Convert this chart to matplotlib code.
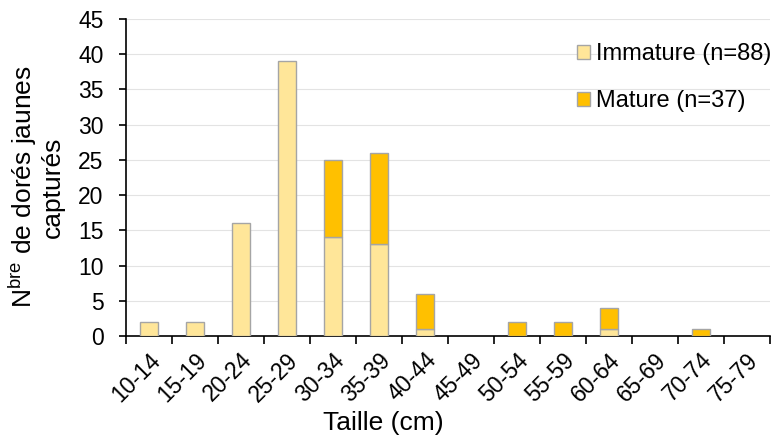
import matplotlib.pyplot as plt
import numpy as np

plt.rcParams.update({'font.family': ['Liberation Sans', 'DejaVu Sans'],
                     'mathtext.fontset': 'custom',
                     'mathtext.rm': 'Liberation Sans',
                     'font.size': 16.5})

classes = ['10-14', '15-19', '20-24', '25-29', '30-34', '35-39', '40-44',
           '45-49', '50-54', '55-59', '60-64', '65-69', '70-74', '75-79']
immature = [2, 2, 16, 39, 14, 13, 1, 0, 0, 0, 1, 0, 0, 0]
mature = [0, 0, 0, 0, 11, 13, 5, 0, 2, 2, 3, 0, 1, 0]

fig = plt.figure(figsize=(7.76, 4.43), dpi=100)
ax = fig.add_axes([0.162, 0.2415, 0.83, 0.716])

x = np.arange(len(classes))
imm = np.array(immature)
mat = np.array(mature)
# empty classes get no bar outline
ki = imm > 0
km = mat > 0
ax.bar(x[ki], imm[ki], width=0.4, color='#FFE699', edgecolor='#A5A5A5', lw=1,
       label='Immature (n=%d)' % imm.sum(), zorder=3)
ax.bar(x[km], mat[km], width=0.4, bottom=imm[km], color='#FFC000',
       edgecolor='#A5A5A5', lw=1, label='Mature (n=%d)' % mat.sum(), zorder=3)

ax.set_xlim(-0.5, len(classes) - 0.5)
ax.set_ylim(0, 45)
ax.set_yticks(range(0, 46, 5))
ax.yaxis.grid(True, color='#E3E3E3', lw=0.8, zorder=0)

ax.set_xticks(x)
ax.set_xticklabels(classes, rotation=45, ha='right', rotation_mode='anchor')
ax.set_xticks(np.arange(-0.5, len(classes)), minor=True)
ax.tick_params(axis='x', which='major', length=0, pad=9)
ax.tick_params(axis='x', which='minor', length=6, width=1.2)
ax.tick_params(axis='y', length=5, width=1.2, pad=11)

for s in ['top', 'right']:
    ax.spines[s].set_visible(False)
for s in ['left', 'bottom']:
    ax.spines[s].set_linewidth(1.2)

ax.set_xlabel('Taille (cm)', fontsize=19)
ax.xaxis.set_label_coords(0.40, -0.237)
ax.set_ylabel(r'N$^{\rm bre}$ de dorés jaunes' + '\ncapturés', fontsize=19,
              linespacing=1.1)
ax.yaxis.set_label_coords(-0.094, 0.47)

ax.legend(loc='upper right', frameon=False, handlelength=0.55, handleheight=0.55,
          handletextpad=0.25, labelspacing=1.05, fontsize=17,
          bbox_to_anchor=(1.036, 0.99))

fig.savefig('out.png', dpi=100)
